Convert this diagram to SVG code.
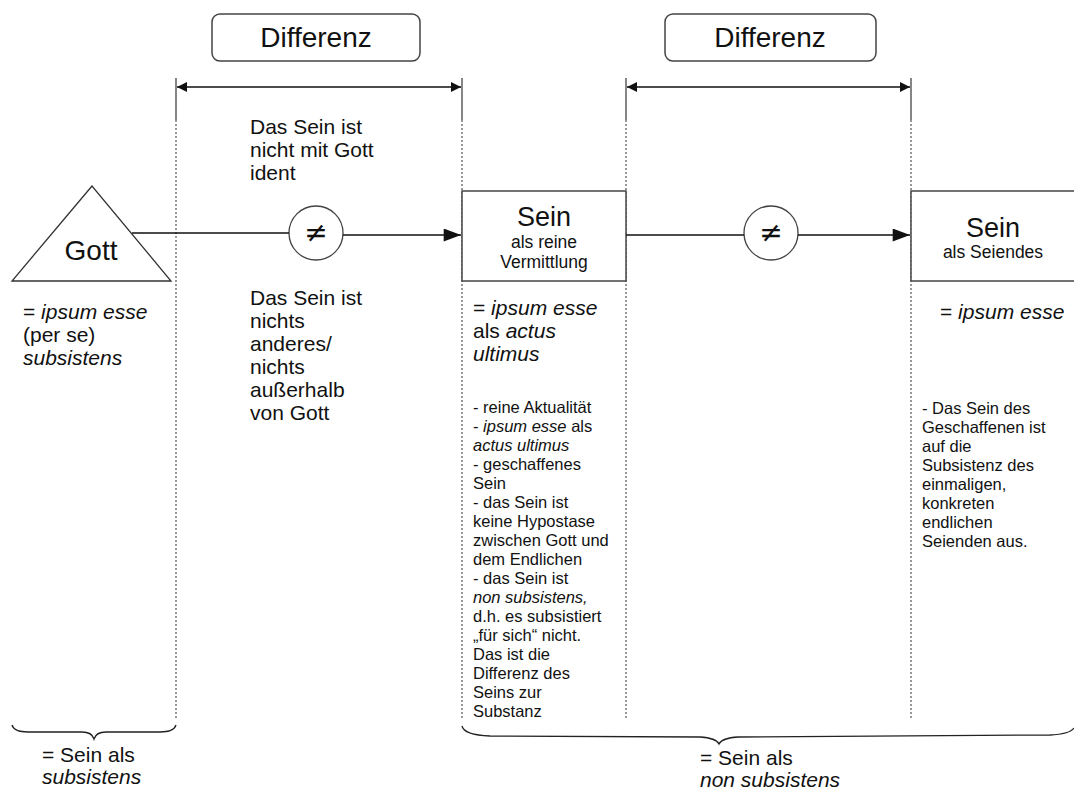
<svg xmlns="http://www.w3.org/2000/svg" width="1074" height="792" viewBox="0 0 1074 792">
<style>
text{font-family:"Liberation Sans",Arial,sans-serif;fill:#111}
.big{font-size:28px}
.t21{font-size:21px}
.t17{font-size:17.5px}
.t16{font-size:16.5px}
.neq{font-size:28px;font-family:"DejaVu Sans","Liberation Sans",sans-serif}
.i{font-style:italic}
.box{fill:#fff;stroke:#444;stroke-width:1.5}
.ln{stroke:#111;stroke-width:1.3;fill:none}
.dot{stroke:#777;stroke-width:1.5;stroke-dasharray:2 2;fill:none}
.tick{stroke:#444;stroke-width:1.3;fill:none}
.brace{stroke:#222;stroke-width:1.3;fill:none}
</style>
<defs>
<marker id="ah" viewBox="0 0 10 10" refX="10" refY="5" markerWidth="10" markerHeight="10" markerUnits="userSpaceOnUse" orient="auto-start-reverse">
<path d="M0,0 L10,5 L0,10 z" fill="#111"/>
</marker>
<marker id="ah2" viewBox="0 0 16 12" refX="16" refY="6" markerWidth="18" markerHeight="13" markerUnits="userSpaceOnUse" orient="auto">
<path d="M0,0 L16,6 L0,12 z" fill="#111"/>
</marker>
</defs>
<rect width="1074" height="792" fill="#fff"/>

<g id="guides">
<line class="dot" x1="176" y1="120" x2="176" y2="720"/>
<line class="dot" x1="462" y1="120" x2="462" y2="720"/>
<line class="dot" x1="626" y1="120" x2="626" y2="720"/>
<line class="dot" x1="911" y1="120" x2="911" y2="720"/>
<line class="tick" x1="176" y1="78" x2="176" y2="120"/>
<line class="tick" x1="462" y1="78" x2="462" y2="120"/>
<line class="tick" x1="626" y1="78" x2="626" y2="120"/>
<line class="tick" x1="911" y1="78" x2="911" y2="120"/>
</g>

<g id="differenz1">
<rect class="box" x="212" y="14" width="208" height="47" rx="8"/>
<text class="big" x="316" y="47" text-anchor="middle">Differenz</text>
</g>
<g id="differenz2">
<rect class="box" x="665" y="14" width="211" height="47" rx="8"/>
<text class="big" x="770" y="47" text-anchor="middle">Differenz</text>
</g>

<g id="gott">
<polygon points="92,186 12,281 171,281" fill="#fff" stroke="#333" stroke-width="1.3"/>
<text class="big" x="91" y="260" text-anchor="middle">Gott</text>
</g>

<g id="sein1">
<rect class="box" x="462" y="191" width="164" height="90"/>
<text x="544" y="226" text-anchor="middle" style="font-size:27px">Sein</text>
<text class="t17" x="544" y="248" text-anchor="middle">als reine</text>
<text class="t17" x="544" y="268" text-anchor="middle">Vermittlung</text>
</g>

<g id="sein2">
<rect class="box" x="911" y="191" width="170" height="90"/>
<text x="993" y="237" text-anchor="middle" style="font-size:27px">Sein</text>
<text class="t17" x="993" y="258" text-anchor="middle">als Seiendes</text>
</g>

<g id="neq1">
<circle cx="316" cy="233" r="27" fill="#fff" stroke="#444" stroke-width="1.3"/>
<text class="neq" x="316" y="242" text-anchor="middle">≠</text>
</g>
<g id="neq2">
<circle cx="771" cy="233" r="27" fill="#fff" stroke="#444" stroke-width="1.3"/>
<text class="neq" x="771" y="242" text-anchor="middle">≠</text>
</g>

<g id="connectors">
<line class="ln" x1="177" y1="87" x2="461" y2="87" marker-start="url(#ah)" marker-end="url(#ah)"/>
<line class="ln" x1="627" y1="87" x2="910" y2="87" marker-start="url(#ah)" marker-end="url(#ah)"/>
<line class="ln" x1="132" y1="233" x2="289" y2="233"/>
<line class="ln" x1="343" y1="235" x2="461" y2="235" marker-end="url(#ah2)"/>
<line class="ln" x1="626" y1="235" x2="744" y2="235"/>
<line class="ln" x1="798" y1="235" x2="910" y2="235" marker-end="url(#ah2)"/>
</g>

<g id="text-col1">
<text class="t21" x="250" y="134">Das Sein ist</text>
<text class="t21" x="250" y="157">nicht mit Gott</text>
<text class="t21" x="250" y="180">ident</text>
<text class="t21" x="250" y="305">Das Sein ist</text>
<text class="t21" x="250" y="328">nichts</text>
<text class="t21" x="250" y="351">anderes/</text>
<text class="t21" x="250" y="374">nichts</text>
<text class="t21" x="250" y="397">außerhalb</text>
<text class="t21" x="250" y="420">von Gott</text>
</g>

<g id="text-gott">
<text class="t21" x="23" y="319">= <tspan class="i">ipsum esse</tspan></text>
<text class="t21" x="23" y="342">(per se)</text>
<text class="t21 i" x="23" y="365">subsistens</text>
</g>

<g id="text-sein1">
<text class="t21" x="473" y="315">= <tspan class="i">ipsum esse</tspan></text>
<text class="t21" x="473" y="338">als <tspan class="i">actus</tspan></text>
<text class="t21 i" x="473" y="361">ultimus</text>
<text class="t16" x="473" y="413">- reine Aktualität</text>
<text class="t16" x="473" y="432">- <tspan class="i">ipsum esse</tspan> als</text>
<text class="t16 i" x="473" y="451">actus ultimus</text>
<text class="t16" x="473" y="470">- geschaffenes</text>
<text class="t16" x="473" y="489">Sein</text>
<text class="t16" x="473" y="508">- das Sein ist</text>
<text class="t16" x="473" y="527">keine Hypostase</text>
<text class="t16" x="473" y="546">zwischen Gott und</text>
<text class="t16" x="473" y="565">dem Endlichen</text>
<text class="t16" x="473" y="584">- das Sein ist</text>
<text class="t16" x="473" y="603"><tspan class="i">non subsistens,</tspan></text>
<text class="t16" x="473" y="622">d.h. es subsistiert</text>
<text class="t16" x="473" y="641">„für sich“ nicht.</text>
<text class="t16" x="473" y="660">Das ist die</text>
<text class="t16" x="473" y="679">Differenz des</text>
<text class="t16" x="473" y="698">Seins zur</text>
<text class="t16" x="473" y="717">Substanz</text>
</g>

<g id="text-sein2">
<text class="t21" x="940" y="319">= <tspan class="i">ipsum esse</tspan></text>
<text class="t16" x="922" y="414">- Das Sein des</text>
<text class="t16" x="922" y="433">Geschaffenen ist</text>
<text class="t16" x="922" y="452">auf die</text>
<text class="t16" x="922" y="471">Subsistenz des</text>
<text class="t16" x="922" y="490">einmaligen,</text>
<text class="t16" x="922" y="509">konkreten</text>
<text class="t16" x="922" y="528">endlichen</text>
<text class="t16" x="922" y="547">Seienden aus.</text>
</g>

<g id="brace-left">
<path class="brace" d="M12,725 Q14,732 28,732 L82,732 Q92,732 94,739 Q96,732 106,732 L160,732 Q174,732 176,725"/>
<text class="t21" x="42" y="762">= Sein als</text>
<text class="t21 i" x="42" y="784">subsistens</text>
</g>

<g id="brace-right">
<path class="brace" d="M462,726 Q464,735 490,736 L700,737 Q716,738 719,744 Q722,738 738,737 L1050,735 Q1070,734 1074,728"/>
<text class="t21" x="700" y="765">= Sein als</text>
<text class="t21 i" x="700" y="787">non subsistens</text>
</g>
</svg>
